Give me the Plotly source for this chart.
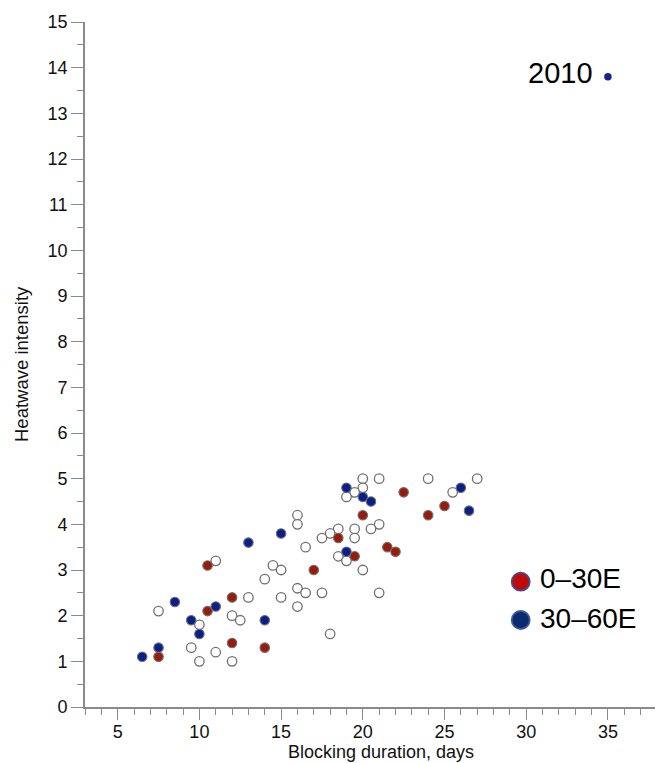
import plotly.graph_objects as go

# Open (other longitudes) events
open_x = [20, 21, 24, 27, 20, 19.5, 19, 25.5, 16, 16, 21, 20.5, 19.5, 18.5, 18, 17.5, 19.5,
          16.5, 18.5, 19, 14.5, 15, 20, 11, 14, 16, 16.5, 17.5, 21, 15, 13, 16, 7.5, 12,
          12.5, 10, 18, 9.5, 11, 10, 12]
open_y = [5.0, 5.0, 5.0, 5.0, 4.8, 4.7, 4.6, 4.7, 4.2, 4.0, 4.0, 3.9, 3.9, 3.9, 3.8, 3.7, 3.7,
          3.5, 3.3, 3.2, 3.1, 3.0, 3.0, 3.2, 2.8, 2.6, 2.5, 2.5, 2.5, 2.4, 2.4, 2.2, 2.1, 2.0,
          1.9, 1.8, 1.6, 1.3, 1.2, 1.0, 1.0]

# 0–30E
red_x = [22.5, 25, 24, 20, 18.5, 21.5, 22, 19.5, 17, 10.5, 12, 10.5, 12, 14, 7.5]
red_y = [4.7, 4.4, 4.2, 4.2, 3.7, 3.5, 3.4, 3.3, 3.0, 3.1, 2.4, 2.1, 1.4, 1.3, 1.1]

# 30–60E
blue_x = [19, 20, 20.5, 26, 26.5, 15, 13, 19, 8.5, 11, 9.5, 14, 10, 7.5, 6.5]
blue_y = [4.8, 4.6, 4.5, 4.8, 4.3, 3.8, 3.6, 3.4, 2.3, 2.2, 1.9, 1.9, 1.6, 1.3, 1.1]

# 2010 event
y2010_x = [35]
y2010_y = [13.8]

legend_labels = ["0–30E", "30–60E"]

FONT = "Liberation Sans, Arial, Helvetica, sans-serif"
AX = "#8a8a8a"

fig = go.Figure()
fig.add_trace(go.Scatter(x=open_x, y=open_y, mode="markers", showlegend=False,
                         marker=dict(size=9.5, color="white", line=dict(color="#707070", width=1.3))))
fig.add_trace(go.Scatter(x=red_x, y=red_y, mode="markers", showlegend=False,
                         marker=dict(size=9.5, color="#981b0c", line=dict(color="#707070", width=1.1))))
fig.add_trace(go.Scatter(x=blue_x, y=blue_y, mode="markers", showlegend=False,
                         marker=dict(size=9.5, color="#0a1e8c", line=dict(color="#707070", width=1.1))))
fig.add_trace(go.Scatter(x=y2010_x, y=y2010_y, mode="markers", showlegend=False,
                         marker=dict(size=7.5, color="#1a2488", line=dict(width=0))))

# page body has an 8px margin; screen-pixel targets are converted accordingly
OFF = 8
SL, ST, SB = 85, 22, 707      # plot-area left, top, bottom in screen pixels
SR = 663
pw, ph = SR - SL, SB - ST
W = SR - OFF
H = 763 - OFF

def px_x(p):
    return (p - SL) / pw

def px_y(p):
    return (SB - p) / ph

# legend swatches
leg_cols = [("#c00a0a", "#3e4f93"), ("#0c2a6e", "#3e5a9a")]
leg_cy = [581.7, 620]
leg_ty = [578.6, 618.6]
for (fill, edge), cy, ty, lab in zip(leg_cols, leg_cy, leg_ty, legend_labels):
    fig.add_shape(type="circle", xref="paper", yref="paper",
                  x0=px_x(511.7), x1=px_x(529.7), y0=px_y(cy + 9), y1=px_y(cy - 9),
                  fillcolor=fill, line=dict(color=edge, width=1.8))
    fig.add_annotation(xref="paper", yref="paper", x=px_x(537.5), y=px_y(ty), text=lab,
                       showarrow=False, xanchor="left", yanchor="middle",
                       font=dict(family=FONT, size=28, color="black"))

fig.add_annotation(xref="paper", yref="paper", x=px_x(526), y=px_y(72.5), text="2010",
                   showarrow=False, xanchor="left", yanchor="middle",
                   font=dict(family=FONT, size=29, color="black"))

fig.add_annotation(xref="paper", yref="paper", x=px_x(380.5), y=px_y(751.5), text="Blocking duration, days",
                   showarrow=False, xanchor="center", yanchor="middle",
                   font=dict(family=FONT, size=18, color="#111"))
fig.add_annotation(xref="paper", yref="paper", x=px_x(21), y=px_y(364), text="Heatwave intensity",
                   showarrow=False, xanchor="center", yanchor="middle", textangle=-90,
                   font=dict(family=FONT, size=18.5, color="#111"))

fig.update_layout(
    width=W, height=H,
    margin=dict(l=SL - OFF, r=0, t=ST - OFF, b=H - (SB - OFF), pad=0),
    paper_bgcolor="white", plot_bgcolor="white",
    font=dict(family=FONT, size=18, color="#111"),
    xaxis=dict(range=[3, 38.37], tick0=5, dtick=5, showgrid=False, zeroline=False,
               showline=True, linecolor=AX, linewidth=1.6,
               ticks="outside", ticklen=11, tickwidth=1.3, tickcolor=AX,
               ticklabelstandoff=-3,
               minor=dict(dtick=1, tick0=0, ticks="outside", ticklen=6, tickwidth=1.2, tickcolor=AX),
               tickfont=dict(family=FONT, size=18, color="#111")),
    yaxis=dict(range=[0, 15], tick0=0, dtick=1, showgrid=False, zeroline=False,
               showline=True, linecolor=AX, linewidth=1.6,
               ticks="outside", ticklen=12, tickwidth=1.3, tickcolor=AX,
               minor=dict(dtick=0.5, tick0=0, ticks="outside", ticklen=6, tickwidth=1.2, tickcolor=AX),
               tickfont=dict(family=FONT, size=18, color="#111")),
)

fig.write_html("out.html")
